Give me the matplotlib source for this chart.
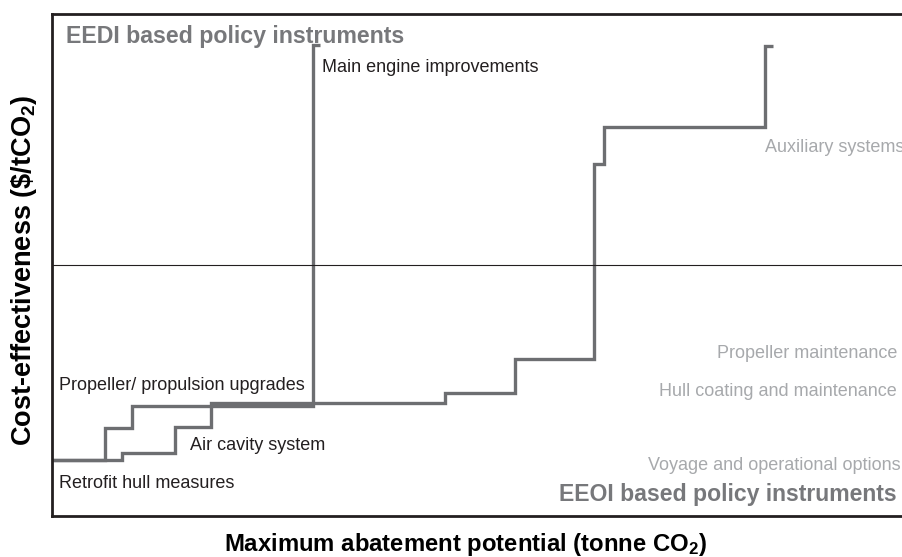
import matplotlib.pyplot as plt

plt.rcParams['font.family'] = ['Liberation Sans', 'DejaVu Sans']
plt.rcParams['mathtext.fontset'] = 'custom'
plt.rcParams['mathtext.rm'] = 'Liberation Sans:bold'
plt.rcParams['mathtext.default'] = 'rm'

# step curves (abatement, cost) - arbitrary units
eedi_x = [0, 53, 80, 261, 268]
eedi_y = [56, 88, 110, 471, 471]
eeoi_x = [0, 70, 123, 159, 393, 463, 542, 552, 713, 721]
eeoi_y = [56, 63, 89, 113, 123, 157, 352, 389, 470, 470]
zero_cost = 251

# labels: (text, x, y)
black_labels = [
    ('Main engine improvements', 270, 448),
    ('Propeller/ propulsion upgrades', 7, 130),
    ('Air cavity system', 138, 70),
    ('Retrofit hull measures', 7, 32),
]
grey_labels_right = [
    ('Propeller maintenance', 845, 162),
    ('Hull coating and maintenance', 845, 124),
]
grey_labels_left = [
    ('Auxiliary systems', 713, 369),
    ('Voyage and operational options', 596, 50),
]

fig = plt.figure(figsize=(9.03, 5.57), dpi=100)
ax = fig.add_axes([52 / 903, 41 / 557, 856 / 903, 502 / 557])

line_col = '#6d6e71'
ax.plot(eedi_x, eedi_y, drawstyle='steps-post', color=line_col, lw=2.4,
        solid_joinstyle='miter', solid_capstyle='butt')
ax.plot(eeoi_x, eeoi_y, drawstyle='steps-post', color=line_col, lw=2.4,
        solid_joinstyle='miter', solid_capstyle='butt')
ax.axhline(zero_cost, color='#231f20', lw=0.8)

ax.set_xlim(0, 856)
ax.set_ylim(0, 502)
ax.set_xticks([])
ax.set_yticks([])
for s in ax.spines.values():
    s.set_linewidth(2)
    s.set_color('#231f20')

for t, x, y in black_labels:
    ax.text(x, y, t, fontsize=13, color='#231f20', va='center', ha='left')
for t, x, y in grey_labels_right:
    ax.text(x, y, t, fontsize=13, color='#a7a9ac', va='center', ha='right')
for t, x, y in grey_labels_left:
    ax.text(x, y, t, fontsize=13, color='#a7a9ac', va='center', ha='left')

ax.text(14, 480, 'EEDI based policy instruments', fontsize=16.7, fontweight='bold',
        color='#77787b', va='center', ha='left')
ax.text(845, 21, 'EEOI based policy instruments', fontsize=16.6, fontweight='bold',
        color='#77787b', va='center', ha='right')

ax.set_xlabel('Maximum abatement potential (tonne CO$_2$)', fontsize=17.2,
              fontweight='bold', va='baseline')
ax.xaxis.set_label_coords(0.483, -0.069)
ax.set_ylabel('Cost-effectiveness (\\$/tCO$_2$)', fontsize=19.5,
              fontweight='bold', va='center')
ax.yaxis.set_label_coords(-0.033, 0.49)

fig.savefig('out.png', dpi=100)
